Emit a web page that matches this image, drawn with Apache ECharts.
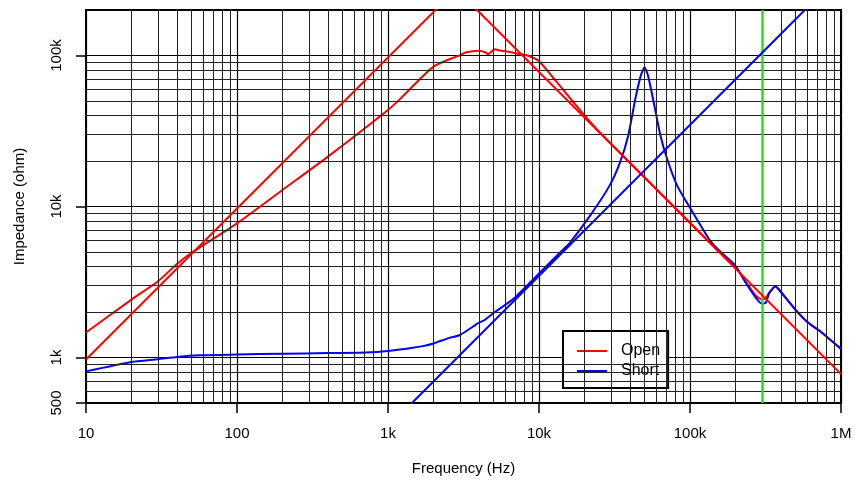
<!DOCTYPE html>
<html><head><meta charset="utf-8">
<script src="https://cdn.jsdelivr.net/npm/echarts@6/dist/echarts.min.js"></script>
<style>html,body{margin:0;padding:0;background:#fff}#c{width:855px;height:484px}</style>
</head><body><div id="c"></div>
<script>
// Measured impedance, open-circuit (Hz, ohm)
const openFreq = [10, 20, 30, 40, 50, 100, 200, 400, 1000, 1200, 2000, 3000, 3300, 4000, 4400, 4600, 5100, 5500, 6300, 7400, 8400, 10000, 13000, 18500, 25000, 40000, 60000, 100000, 150000, 200000, 235000, 274000, 297000, 317000, 335000, 367000, 390000, 500000, 610000, 710000, 1000000];
const openZ    = [1465, 2420, 3200, 4160, 4940, 7740, 12870, 21400, 43600, 51400, 84300, 100600, 105000, 107500, 105000, 102000, 110000, 108000, 106000, 102000, 100000, 91500, 67300, 44000, 31300, 19500, 13000, 7800, 5200, 4000, 3150, 2560, 2430, 2470, 2700, 2950, 2800, 2070, 1690, 1520, 1140];
// Measured impedance, short-circuit (Hz, ohm)
const shortFreq = [10, 20, 30, 40, 57, 100, 200, 400, 714, 1000, 1460, 1700, 2000, 2550, 3000, 4000, 4400, 5100, 6000, 7000, 10000, 13900, 16000, 21800, 29400, 34400, 39000, 43500, 46900, 48500, 49900, 51500, 53000, 57500, 63700, 70500, 82000, 100000, 135000, 158000, 200000, 235000, 274000, 297000, 317000, 335000, 367000, 390000, 500000, 610000, 710000, 1000000];
const shortZ    = [810, 935, 975, 1010, 1035, 1047, 1060, 1070, 1080, 1105, 1160, 1190, 1240, 1350, 1410, 1700, 1780, 2000, 2240, 2520, 3600, 5000, 5750, 8700, 13800, 19600, 29500, 52000, 72000, 79000, 83500, 79000, 72000, 49000, 29500, 20700, 13800, 9800, 6000, 5050, 4050, 3100, 2470, 2280, 2300, 2670, 2950, 2800, 2070, 1690, 1520, 1140];
// Asymptote lines
const openRiseFreq = [10, 10000];
const openRiseZ    = [970, 970000];
const openFallFreq = [1000, 1000000];
const openFallZ    = [777000, 777];
const shortLineFreq = [1000, 1000000];
const shortLineZ    = [347, 347000];
// Marker frequency
const markerFreq = 300000;
// Tick labels
const xTickLabels = {10: '10', 100: '100', 1000: '1k', 10000: '10k', 100000: '100k', 1000000: '1M'};
const yTickLabels = {500: '500', 1000: '1k', 10000: '10k', 100000: '100k'};
const xDecades = [10, 100, 1000, 10000, 100000];
const yDecades = [100, 1000, 10000];
const minorMult = [2, 3, 4, 5, 6, 7, 8, 9];

const FONT = '"Liberation Sans", Arial, Helvetica, sans-serif';
const RED = '#ff0000', BLUE = '#0000ff';
const pairs = (f, z) => f.map((v, i) => [v, z[i]]);
const gridLines = [];
xDecades.forEach(d => minorMult.forEach(m => gridLines.push({xAxis: d * m})));
yDecades.forEach(d => minorMult.forEach(m => { const v = d * m; if (v > 500 && v < 200000) gridLines.push({yAxis: v}); }));
const lbl = (map) => (v) => { const r = Math.round(v); return map[r] !== undefined ? map[r] : ''; };

const chart = echarts.init(document.getElementById('c'), null, {renderer: 'canvas'});
chart.setOption({
  animation: false,
  backgroundColor: '#fff',
  textStyle: {fontFamily: FONT},
  grid: {left: 86, right: 14, top: 10, bottom: 81, show: true, borderColor: '#000', borderWidth: 2, backgroundColor: 'transparent'},
  legend: {
    data: [
      {name: 'Open', icon: 'rect', itemStyle: {color: RED, borderWidth: 0}},
      {name: 'Short', icon: 'rect', itemStyle: {color: BLUE, borderWidth: 0}}
    ],
    orient: 'vertical', left: 563, top: 331,
    backgroundColor: '#fff', borderColor: '#000', borderWidth: 2, borderRadius: 0,
    padding: [12, 8, 9, 14], itemWidth: 30, itemHeight: 2, itemGap: 4,
    formatter: (name) => '{sp|}{t|' + name + '}',
    textStyle: {fontSize: 16, fontFamily: FONT, color: '#000',
      rich: {sp: {width: 9}, t: {fontSize: 16, fontFamily: FONT, color: '#000'}}}
  },
  xAxis: {
    type: 'log', logBase: 10, min: 10, max: 1000000,
    name: 'Frequency (Hz)', nameLocation: 'middle', nameGap: 58,
    nameTextStyle: {fontSize: 15, color: '#000', fontFamily: FONT},
    axisLine: {show: true, lineStyle: {color: '#000', width: 2}},
    axisTick: {show: true, length: 10, lineStyle: {color: '#000', width: 1.5}},
    axisLabel: {margin: 23, fontSize: 15, color: '#000', fontFamily: FONT, formatter: lbl(xTickLabels)},
    splitLine: {show: true, lineStyle: {color: '#000', width: 1.2}},
    minorTick: {show: false}, minorSplitLine: {show: false}
  },
  yAxis: {
    type: 'log', logBase: 10, min: 500, max: 200000,
    name: 'Impedance (ohm)', nameLocation: 'middle', nameGap: 59,
    nameTextStyle: {fontSize: 15, color: '#000', fontFamily: FONT},
    axisLine: {show: true, lineStyle: {color: '#000', width: 2}},
    axisTick: {show: true, length: 10, lineStyle: {color: '#000', width: 1.5}},
    axisLabel: {rotate: 90, margin: 22, fontSize: 15, color: '#000', fontFamily: FONT, showMaxLabel: false, formatter: lbl(yTickLabels)},
    splitLine: {show: true, lineStyle: {color: '#000', width: 1.2}},
    minorTick: {show: false}, minorSplitLine: {show: false}
  },
  series: [
    {name: 'grid', type: 'line', data: [], z: 1, silent: true,
     markLine: {silent: true, symbol: ['none', 'none'], label: {show: false}, animation: false,
       lineStyle: {color: '#222', width: 1, type: 'solid'}, emphasis: {disabled: true}, data: gridLines}},
    {name: 'Open', type: 'line', data: pairs(openFreq, openZ), symbol: 'none', smooth: 0.2,
     lineStyle: {color: RED, width: 2}, itemStyle: {color: RED}, z: 3},
    {name: 'Short', type: 'line', data: pairs(shortFreq, shortZ), symbol: 'none', smooth: 0.2,
     lineStyle: {color: BLUE, width: 2}, itemStyle: {color: BLUE}, z: 4},
    {name: 'Open L', type: 'line', data: pairs(openRiseFreq, openRiseZ), symbol: 'none',
     lineStyle: {color: RED, width: 2}, itemStyle: {color: RED}, z: 5},
    {name: 'Open C', type: 'line', data: pairs(openFallFreq, openFallZ), symbol: 'none',
     lineStyle: {color: RED, width: 2}, itemStyle: {color: RED}, z: 5},
    {name: 'Short L', type: 'line', data: pairs(shortLineFreq, shortLineZ), symbol: 'none',
     lineStyle: {color: BLUE, width: 2}, itemStyle: {color: BLUE}, z: 5},
    {name: 'marker', type: 'line', data: [], z: 6, silent: true,
     markLine: {silent: true, symbol: ['none', 'none'], label: {show: false}, animation: false,
       lineStyle: {color: '#22e022', width: 2.5, type: 'solid'}, data: [{xAxis: markerFreq}]}}
  ]
});
</script></body></html>
